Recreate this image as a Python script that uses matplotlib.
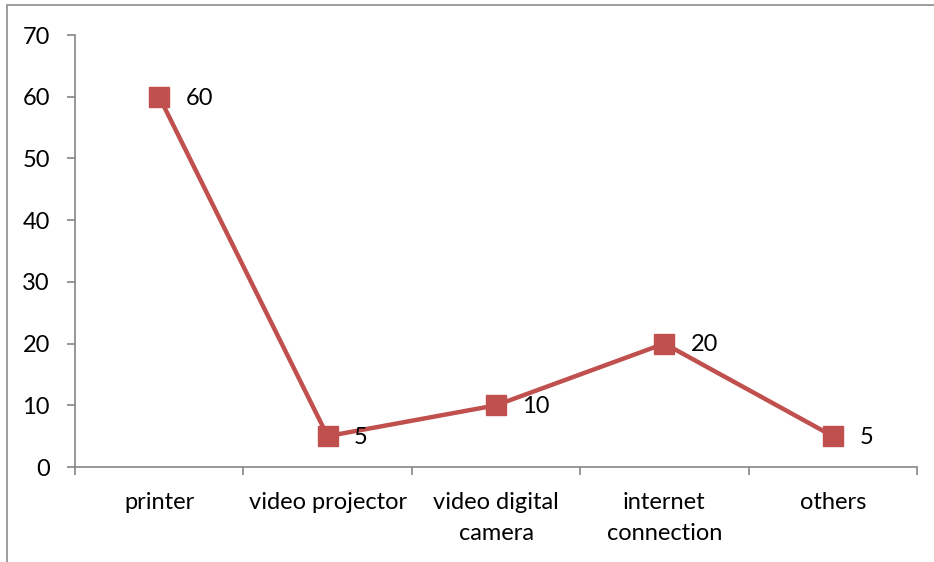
import matplotlib
matplotlib.use('Agg')
import matplotlib.pyplot as plt
from matplotlib.patches import Rectangle
import numpy as np

categories = ['printer', 'video projector', 'video digital\ncamera', 'internet\nconnection', 'others']
values = [60, 5, 10, 20, 5]
y_ticks = [0, 10, 20, 30, 40, 50, 60, 70]

plt.rcParams['font.family'] = ['Lato', 'DejaVu Sans']
FS = 17

fig = plt.figure(figsize=(9.34, 5.62), dpi=100)
ax = fig.add_axes([0.0803, 0.169, 0.9015, 0.7687])

# outer chart frame (only left and top visible in the reference)
fig.patches.append(Rectangle((7 / 934, -0.1), 1.2, 1 - 5 / 562 + 0.1, transform=fig.transFigure,
                             fill=False, edgecolor='#8c8c8c', linewidth=1.2))

x = np.arange(len(categories))
ax.plot(x, values, color='#C0504D', linewidth=3.2, marker='s', markersize=14,
        markerfacecolor='#C0504D', markeredgecolor='#C0504D')

for xi, v in zip(x, values):
    ax.annotate(str(v), (xi, v), xytext=(19, -1), textcoords='offset points',
                ha='left', va='center', fontsize=FS)

ax.set_xlim(-0.5, len(categories) - 0.5)
ax.set_ylim(0, 70)
ax.set_yticks(y_ticks)
ax.set_xticks(x)
ax.set_xticklabels(categories, fontsize=FS, linespacing=1.6)
ax.set_xticks(np.arange(len(categories) + 1) - 0.5, minor=True)
ax.tick_params(axis='x', which='major', length=0, pad=18)
ax.tick_params(axis='x', which='minor', length=6, width=1.2, color='#868686')
ax.tick_params(axis='y', length=6, width=1.2, color='#868686', labelsize=FS, pad=12)
for lbl in ax.get_xticklabels():
    lbl.set_verticalalignment('top')

for s in ['top', 'right']:
    ax.spines[s].set_visible(False)
for s in ['left', 'bottom']:
    ax.spines[s].set_color('#868686')
    ax.spines[s].set_linewidth(1.2)

fig.savefig('out.png', dpi=100)
